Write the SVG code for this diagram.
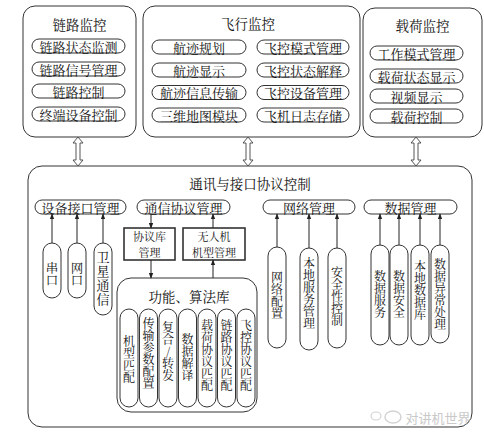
<svg xmlns="http://www.w3.org/2000/svg" width="484" height="433" viewBox="0 0 484 433">
<defs>
<style>
text{font-family:"Noto Serif CJK SC","Liberation Serif","Noto Sans CJK SC",serif;fill:#111;text-anchor:middle;dominant-baseline:central}
.t{font-size:13.5px}
.p{font-size:13px}
.r{font-size:11px}
.vt{writing-mode:vertical-rl;text-orientation:upright;font-size:12px}
.vb{writing-mode:vertical-rl;text-orientation:upright;font-size:12.5px}
.vs{writing-mode:vertical-rl;text-orientation:upright;font-size:13px;letter-spacing:1px}
.box{fill:#fff;stroke:#333;stroke-width:1}
.pill{fill:#fff;stroke:#333;stroke-width:1}
.rect2{fill:#fff;stroke:#333;stroke-width:1.6}
.dbl{fill:#fff;stroke:#444;stroke-width:0.9}
.ln{stroke:#222;stroke-width:1;fill:none}
.wm{fill:#c4c4c4;font-family:"Noto Sans CJK SC",sans-serif;font-size:13px}
</style>
<marker id="ah" viewBox="0 0 8 8" refX="7" refY="4" markerWidth="6" markerHeight="6" orient="auto" markerUnits="userSpaceOnUse">
<path d="M0,1 L8,4 L0,7 z" fill="#222"/>
</marker>
</defs>
<rect width="484" height="433" fill="#fff"/>

<!-- Top: 链路监控 -->
<g id="link-monitor">
<rect class="box" x="23" y="6" width="113" height="131" rx="12"/>
<text class="t" x="79.5" y="23.5">链路监控</text>
<rect class="pill" x="32" y="39" width="93" height="14" rx="7"/><text class="p" x="78.5" y="46">链路状态监测</text>
<rect class="pill" x="32" y="62" width="93" height="14" rx="7"/><text class="p" x="78.5" y="69">链路信号管理</text>
<rect class="pill" x="32" y="84" width="93" height="14" rx="7"/><text class="p" x="78.5" y="91">链路控制</text>
<rect class="pill" x="32" y="107" width="93" height="14" rx="7"/><text class="p" x="78.5" y="114">终端设备控制</text>
</g>

<!-- Top: 飞行监控 -->
<g id="flight-monitor">
<rect class="box" x="143" y="6" width="217" height="131" rx="12"/>
<text class="t" x="248" y="23">飞行监控</text>
<rect class="pill" x="152" y="40" width="94" height="14" rx="7"/><text class="p" x="199" y="47">航迹规划</text>
<rect class="pill" x="152" y="63" width="94" height="14" rx="7"/><text class="p" x="199" y="70">航迹显示</text>
<rect class="pill" x="152" y="85.5" width="94" height="14" rx="7"/><text class="p" x="199" y="92.5">航迹信息传输</text>
<rect class="pill" x="152" y="108" width="94" height="14" rx="7"/><text class="p" x="199" y="115">三维地图模块</text>
<rect class="pill" x="257" y="40" width="92" height="14" rx="7"/><text class="p" x="303" y="47">飞控模式管理</text>
<rect class="pill" x="257" y="63" width="92" height="14" rx="7"/><text class="p" x="303" y="70">飞控状态解释</text>
<rect class="pill" x="257" y="85.5" width="92" height="14" rx="7"/><text class="p" x="303" y="92.5">飞控设备管理</text>
<rect class="pill" x="257" y="108" width="92" height="14" rx="7"/><text class="p" x="303" y="115">飞机日志存储</text>
</g>

<!-- Top: 载荷监控 -->
<g id="payload-monitor">
<rect class="box" x="363" y="8" width="119" height="129" rx="12"/>
<text class="t" x="422.5" y="25">载荷监控</text>
<rect class="pill" x="370" y="46" width="93" height="14" rx="7"/><text class="p" x="416.5" y="53">工作模式管理</text>
<rect class="pill" x="370" y="69" width="93" height="14" rx="7"/><text class="p" x="416.5" y="76">载荷状态显示</text>
<rect class="pill" x="370" y="89" width="93" height="14" rx="7"/><text class="p" x="416.5" y="96">视频显示</text>
<rect class="pill" x="370" y="109" width="93" height="14" rx="7"/><text class="p" x="416.5" y="116">载荷控制</text>
</g>

<!-- Main box -->
<g id="comm-control">
<rect class="box" x="28" y="166" width="444" height="261" rx="14"/>
<text class="t" x="250" y="182.5">通讯与接口协议控制</text>
</g>

<g id="device-if">
<rect class="pill" x="35" y="200" width="91" height="14" rx="7"/><text class="p" x="80.5" y="207">设备接口管理</text>
</g>
<g id="serial">
<rect class="pill" x="43" y="243" width="18" height="55" rx="9"/>
<text class="vb" x="52" y="274">串口</text>
</g>
<g id="net-port">
<rect class="pill" x="68" y="243" width="18" height="55" rx="9"/>
<text class="vb" x="77" y="274">网口</text>
</g>
<g id="satcom">
<rect class="pill" x="94" y="243" width="18" height="72" rx="9"/>
<text class="vs" x="103" y="279">卫星通信</text>
</g>

<g id="comm-protocol">
<rect class="pill" x="137" y="200" width="93" height="14" rx="7"/><text class="p" x="183.5" y="207">通信协议管理</text>
</g>
<g id="proto-lib">
<rect class="rect2" x="124" y="228" width="51" height="32"/>
<text class="r" x="149.5" y="236">协议库</text>
<text class="r" x="149.5" y="252">管理</text>
</g>
<g id="uav-model">
<rect class="rect2" x="183" y="228" width="62" height="32"/>
<text class="r" x="214" y="236">无人机</text>
<text class="r" x="214" y="252">机型管理</text>
</g>

<g id="algo-lib">
<rect class="box" x="117" y="278" width="140" height="134" rx="14"/>
<text class="t" x="189" y="296">功能、算法库</text>
<rect class="pill" x="120" y="309" width="18" height="98" rx="9"/>
<text class="vt" x="129" y="359">机型匹配</text>
<rect class="pill" x="139.5" y="309" width="18" height="98" rx="9"/>
<text class="vt" x="148.5" y="353">传输参数配置</text>
<rect class="pill" x="159" y="309" width="18" height="98" rx="9"/>
<text class="vt" x="168" y="351">复合/转发</text>
<rect class="pill" x="178.5" y="309" width="18" height="98" rx="9"/>
<text class="vt" x="187.5" y="357">数据解译</text>
<rect class="pill" x="198" y="309" width="18" height="98" rx="9"/>
<text class="vt" x="207" y="355">载荷协议匹配</text>
<rect class="pill" x="217.5" y="309" width="18" height="98" rx="9"/>
<text class="vt" x="226.5" y="355">链路协议匹配</text>
<rect class="pill" x="237" y="309" width="18" height="98" rx="9"/>
<text class="vt" x="246" y="355">飞控协议匹配</text>
</g>

<g id="network-mgmt">
<rect class="pill" x="263" y="200" width="92" height="14" rx="7"/><text class="p" x="309" y="207">网络管理</text>
</g>
<g id="net-config">
<rect class="pill" x="268" y="247" width="18" height="101" rx="9"/>
<text class="vt" x="277" y="295">网络配置</text>
</g>
<g id="local-service">
<rect class="pill" x="300" y="248" width="18" height="102" rx="9"/>
<text class="vt" x="309" y="293">本地服务管理</text>
</g>
<g id="security">
<rect class="pill" x="328" y="248" width="18" height="100" rx="9"/>
<text class="vt" x="337" y="296.5">安全性控制</text>
</g>

<g id="data-mgmt">
<rect class="pill" x="364" y="200" width="93" height="14" rx="7"/><text class="p" x="410.5" y="207">数据管理</text>
</g>
<g id="data-service">
<rect class="pill" x="371" y="245" width="18" height="100" rx="9"/>
<text class="vt" x="380" y="294">数据服务</text>
</g>
<g id="data-security">
<rect class="pill" x="390" y="245" width="18" height="100" rx="9"/>
<text class="vt" x="399" y="294">数据安全</text>
</g>
<g id="local-db">
<rect class="pill" x="411" y="245" width="18" height="100" rx="9"/>
<text class="vt" x="420" y="290">本地数据库</text>
</g>
<g id="data-exception">
<rect class="pill" x="431" y="245" width="18" height="98" rx="9"/>
<text class="vt" x="440" y="294.5">数据异常处理</text>
</g>

<!-- Connectors -->
<g id="connectors">
<polygon class="dbl" points="78,137 83,143 80,143 80,160 83,160 78,166 73,160 76,160 76,143 73,143"/>
<polygon class="dbl" points="248,137 253,143 250,143 250,160 253,160 248,166 243,160 246,160 246,143 243,143"/>
<polygon class="dbl" points="416,137 421,143 418,143 418,160 421,160 416,166 411,160 414,160 414,143 411,143"/>

<line class="ln" x1="52" y1="243" x2="52" y2="214" marker-end="url(#ah)"/>
<line class="ln" x1="77" y1="243" x2="77" y2="214" marker-end="url(#ah)"/>
<line class="ln" x1="103" y1="243" x2="103" y2="214" marker-end="url(#ah)"/>

<line class="ln" x1="151" y1="214" x2="151" y2="228" marker-end="url(#ah)"/>
<line class="ln" x1="213" y1="228" x2="213" y2="214" marker-end="url(#ah)"/>
<line class="ln" x1="151" y1="260" x2="151" y2="278" marker-end="url(#ah)"/>
<line class="ln" x1="213" y1="278" x2="213" y2="260" marker-end="url(#ah)"/>

<line class="ln" x1="277" y1="247" x2="277" y2="214" marker-end="url(#ah)"/>
<line class="ln" x1="309" y1="248" x2="309" y2="214" marker-end="url(#ah)"/>
<line class="ln" x1="337" y1="248" x2="337" y2="214" marker-end="url(#ah)"/>

<line class="ln" x1="380" y1="245" x2="380" y2="214" marker-end="url(#ah)"/>
<line class="ln" x1="399" y1="245" x2="399" y2="214" marker-end="url(#ah)"/>
<line class="ln" x1="420" y1="245" x2="420" y2="214" marker-end="url(#ah)"/>
<line class="ln" x1="440" y1="245" x2="440" y2="214" marker-end="url(#ah)"/>
</g>

<!-- Watermark -->
<g id="watermark" opacity="0.9">
<ellipse cx="376" cy="416" rx="5" ry="4" fill="none" stroke="#cfcfcf" stroke-width="1.2"/>
<ellipse cx="393" cy="417" rx="8" ry="6" fill="none" stroke="#cfcfcf" stroke-width="1.5"/>
<text class="wm" x="438" y="417">对讲机世界</text>
</g>
</svg>
